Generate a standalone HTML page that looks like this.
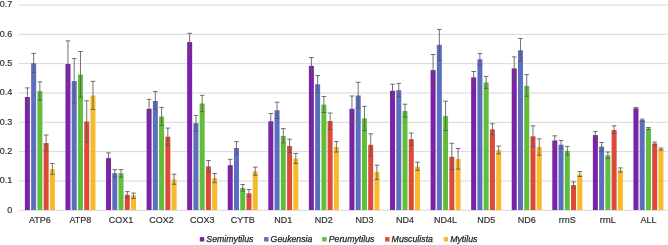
<!DOCTYPE html>
<html><head><meta charset="utf-8"><style>
html,body{margin:0;padding:0;background:#fff;}
svg{display:block;will-change:transform;}
.ax{font-family:"Liberation Sans",sans-serif;font-size:9px;fill:#333;stroke:#333;stroke-width:0.2px;}
.lg{font-family:"Liberation Sans",sans-serif;font-size:8.75px;font-style:italic;fill:#222;stroke:#222;stroke-width:0.25px;}
</style></head><body>
<svg width="668" height="245" viewBox="0 0 668 245">
<line x1="18.8" y1="210.3" x2="668" y2="210.3" stroke="#d8d8d8" stroke-width="1"/>
<text x="12.3" y="212.75" text-anchor="end" class="ax">0</text>
<line x1="18.8" y1="180.97" x2="668" y2="180.97" stroke="#d8d8d8" stroke-width="1"/>
<text x="12.3" y="183.42" text-anchor="end" class="ax">0.1</text>
<line x1="18.8" y1="151.64" x2="668" y2="151.64" stroke="#d8d8d8" stroke-width="1"/>
<text x="12.3" y="154.09" text-anchor="end" class="ax">0.2</text>
<line x1="18.8" y1="122.31" x2="668" y2="122.31" stroke="#d8d8d8" stroke-width="1"/>
<text x="12.3" y="124.76" text-anchor="end" class="ax">0.3</text>
<line x1="18.8" y1="92.98" x2="668" y2="92.98" stroke="#d8d8d8" stroke-width="1"/>
<text x="12.3" y="95.43" text-anchor="end" class="ax">0.4</text>
<line x1="18.8" y1="63.65" x2="668" y2="63.65" stroke="#d8d8d8" stroke-width="1"/>
<text x="12.3" y="66.1" text-anchor="end" class="ax">0.5</text>
<line x1="18.8" y1="34.32" x2="668" y2="34.32" stroke="#d8d8d8" stroke-width="1"/>
<text x="12.3" y="36.77" text-anchor="end" class="ax">0.6</text>
<line x1="18.8" y1="4.99" x2="668" y2="4.99" stroke="#d8d8d8" stroke-width="1"/>
<text x="12.3" y="7.44" text-anchor="end" class="ax">0.7</text>
<rect x="24.89" y="97" width="5" height="113" fill="#7B22A8"/>
<rect x="31.14" y="63.2" width="5" height="146.8" fill="#5C6EBE"/>
<rect x="37.39" y="91.1" width="5" height="118.9" fill="#62BE3A"/>
<rect x="43.64" y="143.1" width="5" height="66.9" fill="#DE4A3A"/>
<rect x="49.89" y="169.1" width="5" height="40.9" fill="#F6BA2A"/>
<rect x="65.46" y="64" width="5" height="146" fill="#7B22A8"/>
<rect x="71.71" y="81.1" width="5" height="128.9" fill="#5C6EBE"/>
<rect x="77.96" y="74.5" width="5" height="135.5" fill="#62BE3A"/>
<rect x="84.21" y="121.5" width="5" height="88.5" fill="#DE4A3A"/>
<rect x="90.46" y="95.5" width="5" height="114.5" fill="#F6BA2A"/>
<rect x="106.03" y="158.1" width="5" height="51.9" fill="#7B22A8"/>
<rect x="112.28" y="173.2" width="5" height="36.8" fill="#5C6EBE"/>
<rect x="118.53" y="173.2" width="5" height="36.8" fill="#62BE3A"/>
<rect x="124.78" y="194.8" width="5" height="15.2" fill="#DE4A3A"/>
<rect x="131.03" y="195.3" width="5" height="14.7" fill="#F6BA2A"/>
<rect x="146.59" y="108.8" width="5" height="101.2" fill="#7B22A8"/>
<rect x="152.84" y="101" width="5" height="109" fill="#5C6EBE"/>
<rect x="159.09" y="116.6" width="5" height="93.4" fill="#62BE3A"/>
<rect x="165.34" y="136.7" width="5" height="73.3" fill="#DE4A3A"/>
<rect x="171.59" y="179.4" width="5" height="30.6" fill="#F6BA2A"/>
<rect x="187.16" y="42.1" width="5" height="167.9" fill="#7B22A8"/>
<rect x="193.41" y="123.2" width="5" height="86.8" fill="#5C6EBE"/>
<rect x="199.66" y="103.5" width="5" height="106.5" fill="#62BE3A"/>
<rect x="205.91" y="166.4" width="5" height="43.6" fill="#DE4A3A"/>
<rect x="212.16" y="178.1" width="5" height="31.9" fill="#F6BA2A"/>
<rect x="227.73" y="165.2" width="5" height="44.8" fill="#7B22A8"/>
<rect x="233.98" y="148" width="5" height="62" fill="#5C6EBE"/>
<rect x="240.23" y="187.9" width="5" height="22.1" fill="#62BE3A"/>
<rect x="246.48" y="193.3" width="5" height="16.7" fill="#DE4A3A"/>
<rect x="252.73" y="171.5" width="5" height="38.5" fill="#F6BA2A"/>
<rect x="268.31" y="121.3" width="5" height="88.7" fill="#7B22A8"/>
<rect x="274.56" y="110.3" width="5" height="99.7" fill="#5C6EBE"/>
<rect x="280.81" y="136" width="5" height="74" fill="#62BE3A"/>
<rect x="287.06" y="146" width="5" height="64" fill="#DE4A3A"/>
<rect x="293.31" y="158.6" width="5" height="51.4" fill="#F6BA2A"/>
<rect x="308.88" y="65.9" width="5" height="144.1" fill="#7B22A8"/>
<rect x="315.12" y="84.3" width="5" height="125.7" fill="#5C6EBE"/>
<rect x="321.38" y="104.6" width="5" height="105.4" fill="#62BE3A"/>
<rect x="327.62" y="121" width="5" height="89" fill="#DE4A3A"/>
<rect x="333.88" y="147" width="5" height="63" fill="#F6BA2A"/>
<rect x="349.45" y="108.9" width="5" height="101.1" fill="#7B22A8"/>
<rect x="355.7" y="95.5" width="5" height="114.5" fill="#5C6EBE"/>
<rect x="361.95" y="118.4" width="5" height="91.6" fill="#62BE3A"/>
<rect x="368.2" y="144.8" width="5" height="65.2" fill="#DE4A3A"/>
<rect x="374.45" y="172" width="5" height="38" fill="#F6BA2A"/>
<rect x="390.02" y="90.8" width="5" height="119.2" fill="#7B22A8"/>
<rect x="396.27" y="90.2" width="5" height="119.8" fill="#5C6EBE"/>
<rect x="402.52" y="111" width="5" height="99" fill="#62BE3A"/>
<rect x="408.77" y="139.2" width="5" height="70.8" fill="#DE4A3A"/>
<rect x="415.02" y="166.6" width="5" height="43.4" fill="#F6BA2A"/>
<rect x="430.59" y="70.1" width="5" height="139.9" fill="#7B22A8"/>
<rect x="436.84" y="44.8" width="5" height="165.2" fill="#5C6EBE"/>
<rect x="443.09" y="115.9" width="5" height="94.1" fill="#62BE3A"/>
<rect x="449.34" y="156.8" width="5" height="53.2" fill="#DE4A3A"/>
<rect x="455.59" y="159" width="5" height="51" fill="#F6BA2A"/>
<rect x="471.16" y="77.4" width="5" height="132.6" fill="#7B22A8"/>
<rect x="477.41" y="59.3" width="5" height="150.7" fill="#5C6EBE"/>
<rect x="483.66" y="82.5" width="5" height="127.5" fill="#62BE3A"/>
<rect x="489.91" y="129.4" width="5" height="80.6" fill="#DE4A3A"/>
<rect x="496.16" y="150.2" width="5" height="59.8" fill="#F6BA2A"/>
<rect x="511.73" y="68.4" width="5" height="141.6" fill="#7B22A8"/>
<rect x="517.98" y="50.3" width="5" height="159.7" fill="#5C6EBE"/>
<rect x="524.23" y="85.8" width="5" height="124.2" fill="#62BE3A"/>
<rect x="530.48" y="136.3" width="5" height="73.7" fill="#DE4A3A"/>
<rect x="536.73" y="147.1" width="5" height="62.9" fill="#F6BA2A"/>
<rect x="552.3" y="140.5" width="5" height="69.5" fill="#7B22A8"/>
<rect x="558.55" y="144.7" width="5" height="65.3" fill="#5C6EBE"/>
<rect x="564.8" y="150.8" width="5" height="59.2" fill="#62BE3A"/>
<rect x="571.05" y="185.1" width="5" height="24.9" fill="#DE4A3A"/>
<rect x="577.3" y="174.6" width="5" height="35.4" fill="#F6BA2A"/>
<rect x="592.87" y="135.1" width="5" height="74.9" fill="#7B22A8"/>
<rect x="599.12" y="146.6" width="5" height="63.4" fill="#5C6EBE"/>
<rect x="605.37" y="155.3" width="5" height="54.7" fill="#62BE3A"/>
<rect x="611.62" y="130" width="5" height="80" fill="#DE4A3A"/>
<rect x="617.87" y="170.4" width="5" height="39.6" fill="#F6BA2A"/>
<rect x="633.44" y="108.3" width="5" height="101.7" fill="#7B22A8"/>
<rect x="639.69" y="120.1" width="5" height="89.9" fill="#5C6EBE"/>
<rect x="645.94" y="128.5" width="5" height="81.5" fill="#62BE3A"/>
<rect x="652.19" y="143.5" width="5" height="66.5" fill="#DE4A3A"/>
<rect x="658.44" y="149.1" width="5" height="60.9" fill="#F6BA2A"/>
<path d="M27.39 87.9V106.1M25.09 87.9H29.69M25.09 106.1H29.69" stroke="#575757" stroke-width="0.85" fill="none"/>
<path d="M33.64 53.4V72.5M31.34 53.4H35.94M31.34 72.5H35.94" stroke="#575757" stroke-width="0.85" fill="none"/>
<path d="M39.89 81.8V100.4M37.59 81.8H42.19M37.59 100.4H42.19" stroke="#575757" stroke-width="0.85" fill="none"/>
<path d="M46.14 135V150.7M43.84 135H48.44M43.84 150.7H48.44" stroke="#575757" stroke-width="0.85" fill="none"/>
<path d="M52.39 163.5V174.5M50.09 163.5H54.69M50.09 174.5H54.69" stroke="#575757" stroke-width="0.85" fill="none"/>
<text x="39.89" y="223.4" text-anchor="middle" class="ax">ATP6</text>
<path d="M67.96 40.9V86.2M65.66 40.9H70.26M65.66 86.2H70.26" stroke="#575757" stroke-width="0.85" fill="none"/>
<path d="M74.21 58.6V103.1M71.91 58.6H76.51M71.91 103.1H76.51" stroke="#575757" stroke-width="0.85" fill="none"/>
<path d="M80.46 51.5V97.2M78.16 51.5H82.76M78.16 97.2H82.76" stroke="#575757" stroke-width="0.85" fill="none"/>
<path d="M86.71 100.8V142.3M84.41 100.8H89.01M84.41 142.3H89.01" stroke="#575757" stroke-width="0.85" fill="none"/>
<path d="M92.96 81.3V109.4M90.66 81.3H95.26M90.66 109.4H95.26" stroke="#575757" stroke-width="0.85" fill="none"/>
<text x="80.46" y="223.4" text-anchor="middle" class="ax">ATP8</text>
<path d="M108.53 152.9V163.5M106.23 152.9H110.83M106.23 163.5H110.83" stroke="#575757" stroke-width="0.85" fill="none"/>
<path d="M114.78 169.6V176.9M112.48 169.6H117.08M112.48 176.9H117.08" stroke="#575757" stroke-width="0.85" fill="none"/>
<path d="M121.03 169.6V177.2M118.73 169.6H123.33M118.73 177.2H123.33" stroke="#575757" stroke-width="0.85" fill="none"/>
<path d="M127.28 191.6V197.7M124.98 191.6H129.58M124.98 197.7H129.58" stroke="#575757" stroke-width="0.85" fill="none"/>
<path d="M133.53 193.1V198.5M131.22 193.1H135.83M131.22 198.5H135.83" stroke="#575757" stroke-width="0.85" fill="none"/>
<text x="121.03" y="223.4" text-anchor="middle" class="ax">COX1</text>
<path d="M149.09 99.4V117.9M146.79 99.4H151.4M146.79 117.9H151.4" stroke="#575757" stroke-width="0.85" fill="none"/>
<path d="M155.34 91.6V109.3M153.04 91.6H157.65M153.04 109.3H157.65" stroke="#575757" stroke-width="0.85" fill="none"/>
<path d="M161.59 107.4V125.5M159.29 107.4H163.9M159.29 125.5H163.9" stroke="#575757" stroke-width="0.85" fill="none"/>
<path d="M167.84 128.1V145.3M165.54 128.1H170.15M165.54 145.3H170.15" stroke="#575757" stroke-width="0.85" fill="none"/>
<path d="M174.09 174.2V184.3M171.79 174.2H176.4M171.79 184.3H176.4" stroke="#575757" stroke-width="0.85" fill="none"/>
<text x="161.59" y="223.4" text-anchor="middle" class="ax">COX2</text>
<path d="M189.66 33.3V50.7M187.36 33.3H191.97M187.36 50.7H191.97" stroke="#575757" stroke-width="0.85" fill="none"/>
<path d="M195.91 115.4V131.3M193.61 115.4H198.22M193.61 131.3H198.22" stroke="#575757" stroke-width="0.85" fill="none"/>
<path d="M202.16 95.3V111.7M199.86 95.3H204.47M199.86 111.7H204.47" stroke="#575757" stroke-width="0.85" fill="none"/>
<path d="M208.41 160.5V172M206.11 160.5H210.72M206.11 172H210.72" stroke="#575757" stroke-width="0.85" fill="none"/>
<path d="M214.66 173.5V182.6M212.36 173.5H216.97M212.36 182.6H216.97" stroke="#575757" stroke-width="0.85" fill="none"/>
<text x="202.16" y="223.4" text-anchor="middle" class="ax">COX3</text>
<path d="M230.23 159.3V170.6M227.93 159.3H232.53M227.93 170.6H232.53" stroke="#575757" stroke-width="0.85" fill="none"/>
<path d="M236.48 141.6V154M234.18 141.6H238.78M234.18 154H238.78" stroke="#575757" stroke-width="0.85" fill="none"/>
<path d="M242.73 184.5V191.1M240.43 184.5H245.03M240.43 191.1H245.03" stroke="#575757" stroke-width="0.85" fill="none"/>
<path d="M248.98 189.6V196.5M246.68 189.6H251.28M246.68 196.5H251.28" stroke="#575757" stroke-width="0.85" fill="none"/>
<path d="M255.23 167.1V175.2M252.93 167.1H257.53M252.93 175.2H257.53" stroke="#575757" stroke-width="0.85" fill="none"/>
<text x="242.73" y="223.4" text-anchor="middle" class="ax">CYTB</text>
<path d="M270.81 113.5V128.6M268.5 113.5H273.11M268.5 128.6H273.11" stroke="#575757" stroke-width="0.85" fill="none"/>
<path d="M277.06 102.2V118.4M274.75 102.2H279.36M274.75 118.4H279.36" stroke="#575757" stroke-width="0.85" fill="none"/>
<path d="M283.31 128.6V142.8M281 128.6H285.61M281 142.8H285.61" stroke="#575757" stroke-width="0.85" fill="none"/>
<path d="M289.56 139.2V152.6M287.25 139.2H291.86M287.25 152.6H291.86" stroke="#575757" stroke-width="0.85" fill="none"/>
<path d="M295.81 153.4V163.5M293.5 153.4H298.11M293.5 163.5H298.11" stroke="#575757" stroke-width="0.85" fill="none"/>
<text x="283.31" y="223.4" text-anchor="middle" class="ax">ND1</text>
<path d="M311.38 57.5V73.7M309.07 57.5H313.68M309.07 73.7H313.68" stroke="#575757" stroke-width="0.85" fill="none"/>
<path d="M317.62 75.5V92.8M315.32 75.5H319.93M315.32 92.8H319.93" stroke="#575757" stroke-width="0.85" fill="none"/>
<path d="M323.88 96.5V112.5M321.57 96.5H326.18M321.57 112.5H326.18" stroke="#575757" stroke-width="0.85" fill="none"/>
<path d="M330.12 113V129.4M327.82 113H332.43M327.82 129.4H332.43" stroke="#575757" stroke-width="0.85" fill="none"/>
<path d="M336.38 141.6V152M334.07 141.6H338.68M334.07 152H338.68" stroke="#575757" stroke-width="0.85" fill="none"/>
<text x="323.88" y="223.4" text-anchor="middle" class="ax">ND2</text>
<path d="M351.95 96V122.5M349.65 96H354.25M349.65 122.5H354.25" stroke="#575757" stroke-width="0.85" fill="none"/>
<path d="M358.2 82.3V108.3M355.9 82.3H360.5M355.9 108.3H360.5" stroke="#575757" stroke-width="0.85" fill="none"/>
<path d="M364.45 106.4V130.6M362.15 106.4H366.75M362.15 130.6H366.75" stroke="#575757" stroke-width="0.85" fill="none"/>
<path d="M370.7 133.8V155.8M368.4 133.8H373M368.4 155.8H373" stroke="#575757" stroke-width="0.85" fill="none"/>
<path d="M376.95 165.2V179.4M374.65 165.2H379.25M374.65 179.4H379.25" stroke="#575757" stroke-width="0.85" fill="none"/>
<text x="364.45" y="223.4" text-anchor="middle" class="ax">ND3</text>
<path d="M392.52 84.2V97.3M390.22 84.2H394.82M390.22 97.3H394.82" stroke="#575757" stroke-width="0.85" fill="none"/>
<path d="M398.77 83.4V96.7M396.47 83.4H401.07M396.47 96.7H401.07" stroke="#575757" stroke-width="0.85" fill="none"/>
<path d="M405.02 104.2V117.1M402.72 104.2H407.32M402.72 117.1H407.32" stroke="#575757" stroke-width="0.85" fill="none"/>
<path d="M411.27 133V145.8M408.97 133H413.57M408.97 145.8H413.57" stroke="#575757" stroke-width="0.85" fill="none"/>
<path d="M417.52 162.2V170.3M415.22 162.2H419.82M415.22 170.3H419.82" stroke="#575757" stroke-width="0.85" fill="none"/>
<text x="405.02" y="223.4" text-anchor="middle" class="ax">ND4</text>
<path d="M433.09 54.5V85.5M430.79 54.5H435.39M430.79 85.5H435.39" stroke="#575757" stroke-width="0.85" fill="none"/>
<path d="M439.34 29.4V60.3M437.04 29.4H441.64M437.04 60.3H441.64" stroke="#575757" stroke-width="0.85" fill="none"/>
<path d="M445.59 101.2V130.6M443.29 101.2H447.89M443.29 130.6H447.89" stroke="#575757" stroke-width="0.85" fill="none"/>
<path d="M451.84 143.3V169.6M449.54 143.3H454.14M449.54 169.6H454.14" stroke="#575757" stroke-width="0.85" fill="none"/>
<path d="M458.09 148.5V169.1M455.79 148.5H460.39M455.79 169.1H460.39" stroke="#575757" stroke-width="0.85" fill="none"/>
<text x="445.59" y="223.4" text-anchor="middle" class="ax">ND4L</text>
<path d="M473.66 71.5V83.5M471.36 71.5H475.96M471.36 83.5H475.96" stroke="#575757" stroke-width="0.85" fill="none"/>
<path d="M479.91 53.4V65.2M477.61 53.4H482.21M477.61 65.2H482.21" stroke="#575757" stroke-width="0.85" fill="none"/>
<path d="M486.16 76.4V88.4M483.86 76.4H488.46M483.86 88.4H488.46" stroke="#575757" stroke-width="0.85" fill="none"/>
<path d="M492.41 123.7V134.8M490.11 123.7H494.71M490.11 134.8H494.71" stroke="#575757" stroke-width="0.85" fill="none"/>
<path d="M498.66 146V153.8M496.36 146H500.96M496.36 153.8H500.96" stroke="#575757" stroke-width="0.85" fill="none"/>
<text x="486.16" y="223.4" text-anchor="middle" class="ax">ND5</text>
<path d="M514.23 56.9V80M511.93 56.9H516.52M511.93 80H516.52" stroke="#575757" stroke-width="0.85" fill="none"/>
<path d="M520.48 38.5V61.5M518.18 38.5H522.77M518.18 61.5H522.77" stroke="#575757" stroke-width="0.85" fill="none"/>
<path d="M526.73 74.6V96.2M524.43 74.6H529.02M524.43 96.2H529.02" stroke="#575757" stroke-width="0.85" fill="none"/>
<path d="M532.98 125.8V146.6M530.68 125.8H535.27M530.68 146.6H535.27" stroke="#575757" stroke-width="0.85" fill="none"/>
<path d="M539.23 138.8V155.2M536.93 138.8H541.52M536.93 155.2H541.52" stroke="#575757" stroke-width="0.85" fill="none"/>
<text x="526.73" y="223.4" text-anchor="middle" class="ax">ND6</text>
<path d="M554.8 135.8V144.9M552.5 135.8H557.1M552.5 144.9H557.1" stroke="#575757" stroke-width="0.85" fill="none"/>
<path d="M561.05 140.5V148.6M558.75 140.5H563.35M558.75 148.6H563.35" stroke="#575757" stroke-width="0.85" fill="none"/>
<path d="M567.3 146.4V155M565 146.4H569.6M565 155H569.6" stroke="#575757" stroke-width="0.85" fill="none"/>
<path d="M573.55 181.9V188M571.25 181.9H575.85M571.25 188H575.85" stroke="#575757" stroke-width="0.85" fill="none"/>
<path d="M579.8 171.6V176.5M577.5 171.6H582.1M577.5 176.5H582.1" stroke="#575757" stroke-width="0.85" fill="none"/>
<text x="567.3" y="223.4" text-anchor="middle" class="ax">rrnS</text>
<path d="M595.37 131.4V138.8M593.07 131.4H597.66M593.07 138.8H597.66" stroke="#575757" stroke-width="0.85" fill="none"/>
<path d="M601.62 142.5V151.1M599.32 142.5H603.91M599.32 151.1H603.91" stroke="#575757" stroke-width="0.85" fill="none"/>
<path d="M607.87 152V158.3M605.57 152H610.16M605.57 158.3H610.16" stroke="#575757" stroke-width="0.85" fill="none"/>
<path d="M614.12 125.8V133.6M611.82 125.8H616.41M611.82 133.6H616.41" stroke="#575757" stroke-width="0.85" fill="none"/>
<path d="M620.37 167.9V172.1M618.07 167.9H622.66M618.07 172.1H622.66" stroke="#575757" stroke-width="0.85" fill="none"/>
<text x="607.87" y="223.4" text-anchor="middle" class="ax">rrnL</text>
<path d="M635.94 107.4V109.6M633.64 107.4H638.24M633.64 109.6H638.24" stroke="#575757" stroke-width="0.85" fill="none"/>
<path d="M642.19 119.1V121.2M639.89 119.1H644.49M639.89 121.2H644.49" stroke="#575757" stroke-width="0.85" fill="none"/>
<path d="M648.44 127.5V129.5M646.14 127.5H650.74M646.14 129.5H650.74" stroke="#575757" stroke-width="0.85" fill="none"/>
<path d="M654.69 142V145M652.39 142H656.99M652.39 145H656.99" stroke="#575757" stroke-width="0.85" fill="none"/>
<path d="M660.94 148V150M658.64 148H663.24M658.64 150H663.24" stroke="#575757" stroke-width="0.85" fill="none"/>
<text x="648.44" y="223.4" text-anchor="middle" class="ax">ALL</text>
<rect x="199.8" y="237.1" width="4.4" height="4.4" fill="#7B22A8"/>
<text x="206.3" y="242.2" class="lg">Semimytilus</text>
<rect x="264.1" y="237.1" width="4.4" height="4.4" fill="#5C6EBE"/>
<text x="270.6" y="242.2" class="lg">Geukensia</text>
<rect x="322.2" y="237.1" width="4.4" height="4.4" fill="#62BE3A"/>
<text x="328.7" y="242.2" class="lg">Perumytilus</text>
<rect x="385.1" y="237.1" width="4.4" height="4.4" fill="#DE4A3A"/>
<text x="391.6" y="242.2" class="lg">Musculista</text>
<rect x="443.7" y="237.1" width="4.4" height="4.4" fill="#F6BA2A"/>
<text x="450.2" y="242.2" class="lg">Mytilus</text>
</svg>
</body></html>
